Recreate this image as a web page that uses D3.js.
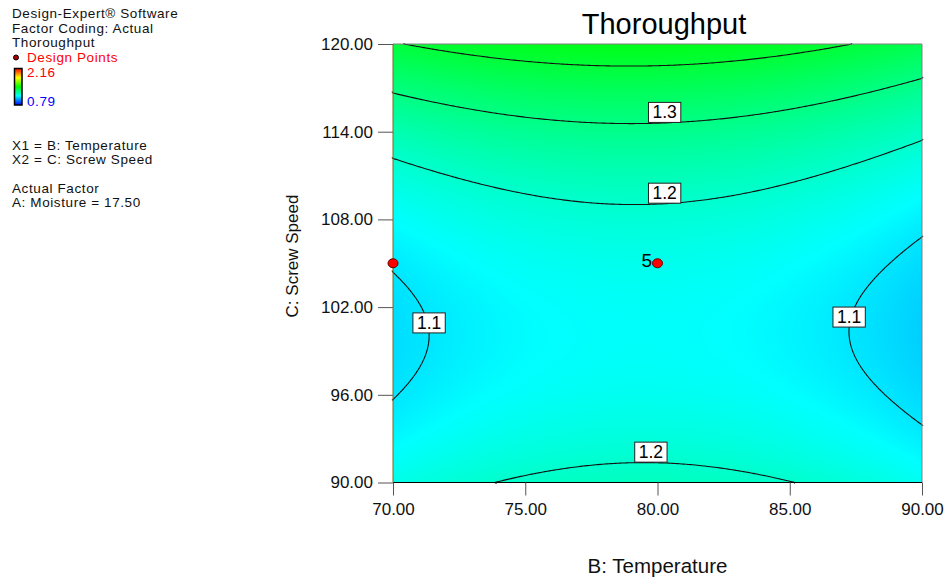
<!DOCTYPE html>
<html>
<head>
<meta charset="utf-8">
<script src="https://cdn.jsdelivr.net/npm/d3@7"></script>
<style>
  body { margin: 0; background: #fff; }
  svg { font-family: "Liberation Sans", Arial, sans-serif; }
</style>
</head>
<body>
<div id="chart"></div>
<script>
// ---- data ----
const tempDomain = [70, 90];          // B: Temperature
const speedDomain = [90, 120];        // C: Screw Speed
const tempTicks = [70, 75, 80, 85, 90];
const speedTicks = [90, 96, 102, 108, 114, 120];

// quadratic model in coded units (estimated from the contour shapes)
const modelTerms = ["Intercept", "B", "C", "BC", "B^2", "C^2"];
const modelCoefs = [1.157, -0.010, 0.112, -0.004, -0.0625, 0.175];

const contourLevels = [1.1, 1.2, 1.3, 1.4];
const colorLow = 0.79;
const colorHigh = 2.16;

// design points
const designTemp = [70, 80];
const designSpeed = [105, 105];
const designRuns = [1, 5];

// contour labels: level, which variable is fixed, its value, search range of the other one
const labelLevels = [1.3, 1.2, 1.2, 1.1, 1.1];
const labelAlong = ["T", "T", "T", "S", "S"];
const labelAt = [80.27, 80.27, 79.75, 100.2, 100.6];
const labelSearch = [[105, 120], [105, 120], [90, 105], [70, 80], [80, 90]];

const legendLines = ["Design-Expert\u00AE Software", "Factor Coding: Actual", "Thoroughput"];
const legendFactors = ["X1 = B: Temperature", "X2 = C: Screw Speed"];
const legendActual = ["Actual Factor", "A: Moisture = 17.50"];

// ---- setup ----
const width = 946;
const height = 580;

const svg = d3.select("#chart").append("svg")
  .attr("width", width)
  .attr("height", height);

const x = d3.scaleLinear().domain(tempDomain).range([393, 922]);
const y = d3.scaleLinear().domain(speedDomain).range([482.5, 44]);

function model(T, S) {
  const X = (T - 80) / 10, Y = (S - 105) / 15;
  const c = modelCoefs;
  return c[0] + c[1] * X + c[2] * Y + c[3] * X * Y + c[4] * X * X + c[5] * Y * Y;
}

const step = (colorHigh - colorLow) / 4;
const color = d3.scaleLinear()
  .domain(d3.range(5).map(i => colorLow + i * step))
  .range(["#0000ff", "#00ffff", "#00ff00", "#ffff00", "#ff0000"])
  .clamp(true);

// ---- shaded surface (canvas -> image) ----
const pw = Math.round(x(90) - x(70));
const ph = Math.round(y(90) - y(120));
const canvas = document.createElement("canvas");
canvas.width = pw;
canvas.height = ph;
const ctx = canvas.getContext("2d");
const img = ctx.createImageData(pw, ph);
for (let j = 0; j < ph; j++) {
  const S = y.invert(y(120) + j + 0.5);
  for (let i = 0; i < pw; i++) {
    const T = x.invert(x(70) + i + 0.5);
    const c = d3.rgb(color(model(T, S)));
    const k = (j * pw + i) * 4;
    img.data[k] = c.r; img.data[k + 1] = c.g; img.data[k + 2] = c.b; img.data[k + 3] = 255;
  }
}
ctx.putImageData(img, 0, 0);

svg.append("image")
  .attr("x", x(70)).attr("y", y(120))
  .attr("width", pw).attr("height", ph)
  .attr("preserveAspectRatio", "none")
  .attr("href", canvas.toDataURL());

// ---- contour lines ----
const n = 241, m = 241;
const values = new Float64Array(n * m);
for (let j = 0; j < m; j++) {
  const S = speedDomain[0] + j * (speedDomain[1] - speedDomain[0]) / (m - 1);
  for (let i = 0; i < n; i++) {
    const T = tempDomain[0] + i * (tempDomain[1] - tempDomain[0]) / (n - 1);
    values[j * n + i] = model(T, S);
  }
}
const gx = d3.scaleLinear().domain([0.5, n - 0.5]).range([x(70), x(90)]);
const gy = d3.scaleLinear().domain([0.5, m - 0.5]).range([y(90), y(120)]);
const onEdge = p => p[0] === 0 || p[0] === n || p[1] === 0 || p[1] === m;
const line = d3.line().x(p => gx(p[0])).y(p => gy(p[1]));

const contourG = svg.append("g")
  .attr("fill", "none")
  .attr("stroke", "#111")
  .attr("stroke-width", 1.1);

contourLevels.forEach(level => {
  const geo = d3.contours().size([n, m]).thresholds([level])(values)[0];
  geo.coordinates.forEach(poly => {
    poly.forEach(ring => {
      let cur = [];
      for (let k = 0; k < ring.length - 1; k++) {
        const a = ring[k], b = ring[k + 1];
        if (onEdge(a) && onEdge(b)) {
          if (cur.length > 1) contourG.append("path").attr("d", line(cur));
          cur = [];
        } else {
          if (!cur.length) cur.push(a);
          cur.push(b);
        }
      }
      if (cur.length > 1) contourG.append("path").attr("d", line(cur));
    });
  });
});

// ---- plot frame ----
const frame = svg.append("g").attr("stroke-width", 1);
frame.append("line").attr("x1", x(70)).attr("x2", x(90)).attr("y1", y(120)).attr("y2", y(120)).attr("stroke", "#808080");
frame.append("line").attr("x1", x(90)).attr("x2", x(90)).attr("y1", y(120)).attr("y2", y(90)).attr("stroke", "#808080");
frame.append("line").attr("x1", x(70)).attr("x2", x(70)).attr("y1", y(120)).attr("y2", y(90)).attr("stroke", "#7a6a20");
frame.append("line").attr("x1", x(70)).attr("x2", x(90)).attr("y1", y(90)).attr("y2", y(90)).attr("stroke", "#000");

// ---- axes ----
const xAxis = svg.append("g")
  .attr("transform", `translate(0,${y(90)})`)
  .call(d3.axisBottom(x).tickValues(tempTicks).tickFormat(d3.format(".2f")).tickSize(13).tickPadding(7));
const yAxis = svg.append("g")
  .attr("transform", `translate(${x(70)},0)`)
  .call(d3.axisLeft(y).tickValues(speedTicks).tickFormat(d3.format(".2f")).tickSize(15).tickPadding(5));
[xAxis, yAxis].forEach(g => {
  g.select(".domain").remove();
  g.selectAll(".tick line").attr("stroke", "#555");
  g.selectAll(".tick text").attr("font-size", 17).attr("fill", "#111")
    .attr("font-family", "Liberation Sans, Arial, sans-serif");
});

svg.append("text")
  .attr("x", 664).attr("y", 34)
  .attr("text-anchor", "middle").attr("font-size", 29).attr("fill", "#000")
  .text("Thoroughput");

svg.append("text")
  .attr("x", (x(70) + x(90)) / 2).attr("y", 573)
  .attr("text-anchor", "middle").attr("font-size", 20.5).attr("fill", "#111")
  .text("B: Temperature");

svg.append("text")
  .attr("transform", `translate(298,256) rotate(-90)`)
  .attr("text-anchor", "middle").attr("font-size", 17).attr("fill", "#111")
  .text("C: Screw Speed");

// ---- contour labels ----
function solve(level, along, at, range) {
  const f = v => (along === "T" ? model(at, v) : model(v, at)) - level;
  let lo = range[0], hi = range[1];
  const flo = f(lo);
  for (let k = 0; k < 60; k++) {
    const mid = (lo + hi) / 2;
    if ((f(mid) > 0) === (flo > 0)) lo = mid; else hi = mid;
  }
  const v = (lo + hi) / 2;
  return along === "T" ? [x(at), y(v)] : [x(v), y(at)];
}

labelLevels.forEach((level, i) => {
  const p = solve(level, labelAlong[i], labelAt[i], labelSearch[i]);
  const g = svg.append("g").attr("transform", `translate(${p[0]},${p[1] - 0.5})`);
  const rect = g.append("rect").attr("fill", "#fff").attr("stroke", "#222").attr("stroke-width", 1);
  const t = g.append("text")
    .attr("text-anchor", "middle").attr("y", -4)
    .attr("font-size", 17.5).attr("fill", "#000")
    .text(d3.format(".1f")(level));
  const w = t.node().getComputedTextLength() + 8;
  rect.attr("x", -w / 2).attr("y", -20).attr("width", w).attr("height", 20);
});

// ---- design points ----
designTemp.forEach((T, i) => {
  const px = x(T), py = y(designSpeed[i]);
  svg.append("ellipse")
    .attr("cx", px).attr("cy", py).attr("rx", 5).attr("ry", 4.5)
    .attr("fill", "#ff0000").attr("stroke", "#600").attr("stroke-width", 1);
  if (designRuns[i] > 1) {
    svg.append("text")
      .attr("x", px - 5.5).attr("y", py + 4)
      .attr("text-anchor", "end").attr("font-size", 19).attr("fill", "#000")
      .text(designRuns[i]);
  }
});

// ---- legend ----
const legend = svg.append("g").attr("font-size", 13.5).attr("letter-spacing", 0.6).attr("fill", "#111");
legendLines.forEach((s, i) => legend.append("text").attr("x", 12).attr("y", 18 + i * 14.5).text(s));
legend.append("circle").attr("cx", 16).attr("cy", 57.5).attr("r", 2.5)
  .attr("fill", "#a00").attr("stroke", "#000").attr("stroke-width", 1);
legend.append("text").attr("x", 27).attr("y", 62).attr("fill", "#ff0000").text("Design Points");

const grad = svg.append("defs").append("linearGradient")
  .attr("id", "cbar").attr("x1", 0).attr("x2", 0).attr("y1", 1).attr("y2", 0);
color.domain().forEach((d, i) => {
  grad.append("stop").attr("offset", i / 4).attr("stop-color", color(d));
});
legend.append("rect").attr("x", 14.5).attr("y", 68.5).attr("width", 7.5).attr("height", 36.5)
  .attr("fill", "url(#cbar)").attr("stroke", "#000").attr("stroke-width", 1.5);
legend.append("text").attr("x", 27).attr("y", 77).attr("fill", "#ff0000").text(d3.format(".2f")(colorHigh));
legend.append("text").attr("x", 27).attr("y", 106).attr("fill", "#0000ff").text(d3.format(".2f")(colorLow));

legendFactors.forEach((s, i) => legend.append("text").attr("x", 12).attr("y", 150 + i * 14).text(s));
legendActual.forEach((s, i) => legend.append("text").attr("x", 12).attr("y", 193 + i * 14).text(s));
</script>
</body>
</html>
